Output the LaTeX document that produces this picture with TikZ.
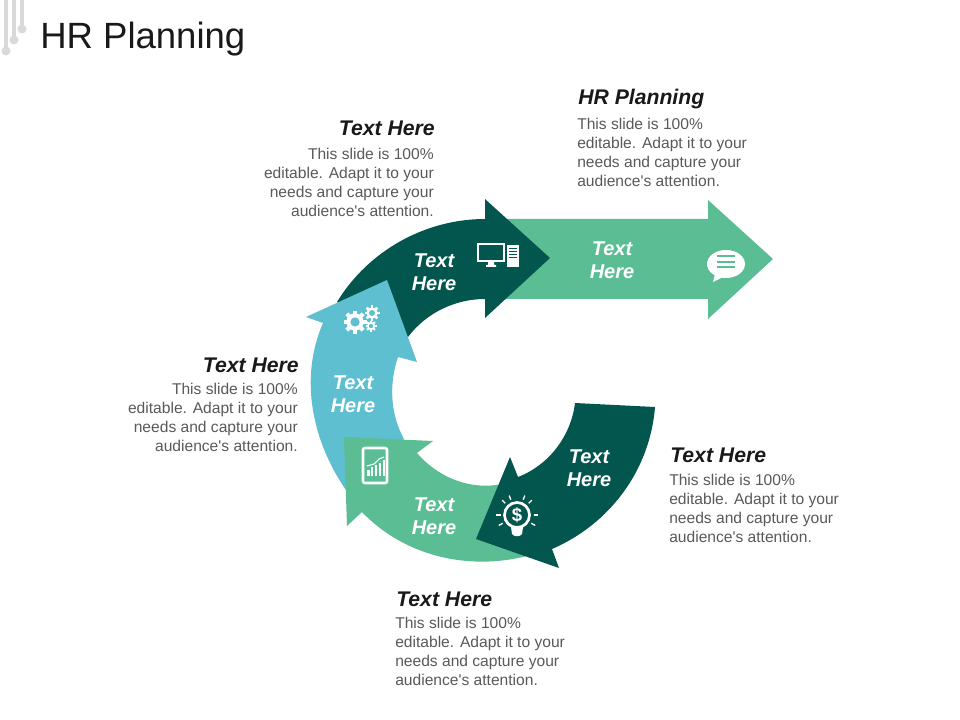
\documentclass[tikz,border=0pt]{standalone}
\usepackage{fontspec}
\setmainfont{Liberation Sans}[Ligatures=TeXOff]
\usetikzlibrary{positioning}
\definecolor{leafgreen}{HTML}{5BBD93}
\definecolor{deepteal}{HTML}{03564E}
\definecolor{skyteal}{HTML}{5DBFCF}
\definecolor{bodygray}{HTML}{595959}
\definecolor{ornament}{HTML}{D9D9D9}
\tikzset{
  headtext/.style={inner sep=0pt,font=\fontsize{15.9}{19}\selectfont\bfseries\itshape,text=black!90},
  bodytext/.style={inner sep=0pt,xshift=-.75pt,yshift=-.75pt,font=\fontsize{11.7}{14.25}\selectfont,text=bodygray},
  arrowtext/.style={inner sep=0pt,align=center,text=white,font=\fontsize{15}{17.25}\selectfont\bfseries\itshape},
  iconline/.style={draw=white,line width=1.9pt}
}
\newcommand{\gearicon}[5]{% x, y, radius, tooth width, background
  \foreach \a in {0,45,...,315}
    \draw[white,line width=#4pt] (#1,#2) ++(\a:.6*#3) -- ++(\a:.4*#3);
  \fill[white] (#1,#2) circle (.75*#3);
  \fill[#5] (#1,#2) circle (.4*#3);
}
\begin{document}
\begin{tikzpicture}[x=.75pt,y=-.75pt]
\useasboundingbox (0,0) rectangle (960,720);
% corner lines
\draw[ornament,line width=2.5pt] (6,0) -- (6,51);
\draw[ornament,line width=2.5pt] (14,0) -- (14,40);
\draw[ornament,line width=2.5pt] (22,0) -- (22,29);
\fill[ornament] (6,51) circle (4.5) (14,40) circle (4.5) (22,29) circle (4.5);
\node[anchor=west,inner sep=0pt,font=\fontsize{27.4}{30}\selectfont,text=black!90] (title) at (40,39) {HR Planning};
% arrows
\fill[leafgreen] (495,219) -- (708,219) -- (708,200) -- (773,259) -- (708,319) -- (708,299) -- (495,299) -- cycle;
\fill[deepteal] (337,302) .. controls (368,251) and (425,219) .. (485,219) -- (485,199) -- (550,258) -- (485,318) -- (485,299) .. controls (455,299) and (426,313) .. (408,337) -- cycle;
\fill[skyteal] (346,490) .. controls (312,441) and (299,378) .. (323,323) -- (306,317) -- (387,280) -- (417,362) -- (398,357) .. controls (389,383) and (390,414) .. (404,439) -- cycle;
\fill[leafgreen] (527,556) .. controls (468,571) and (404,556) .. (362,512) -- (347,526) -- (344,437) -- (433,441) -- (417,453) .. controls (441,481) and (480,494) .. (515,480) -- cycle;
\fill[deepteal] (575,403) -- (655,407) .. controls (650,470) and (610,524) .. (552,549) -- (559,568) -- (476,539) -- (510,457) -- (518,477) .. controls (549,465) and (571,436) .. (575,403) -- cycle;
% arrow labels
\node[arrowtext] (textright) at (612,260) {Text\\Here};
\node[arrowtext] (texttop) at (434,272) {Text\\Here};
\node[arrowtext] (textleft) at (353,394) {Text\\Here};
\node[arrowtext] (textbottom) at (434,516) {Text\\Here};
\node[arrowtext] (textlow) at (589,468) {Text\\Here};
% side texts
\node[headtext,anchor=west] (hrhead) at (578,99) {HR Planning};
\node[bodytext,align=left,below=5.75pt of hrhead.south west,anchor=north west] (hrbody) {This slide is 100\%\\editable. Adapt it to your\\needs and capture your\\audience's attention.};
\node[headtext,anchor=east] (tophead) at (435,128) {Text Here};
\node[bodytext,align=right,below=8.75pt of tophead.south east,anchor=north east] (topbody) {This slide is 100\%\\editable. Adapt it to your\\needs and capture your\\audience's attention.};
\node[headtext,anchor=east] (lefthead) at (299,365) {Text Here};
\node[bodytext,align=right,below=7.25pt of lefthead.south east,anchor=north east] (leftbody) {This slide is 100\%\\editable. Adapt it to your\\needs and capture your\\audience's attention.};
\node[headtext,anchor=west] (lowhead) at (670,455) {Text Here};
\node[bodytext,align=left,below=8pt of lowhead.south west,anchor=north west] (lowbody) {This slide is 100\%\\editable. Adapt it to your\\needs and capture your\\audience's attention.};
\node[headtext,anchor=west] (bottomhead) at (396,599) {Text Here};
\node[bodytext,align=left,below=7.25pt of bottomhead.south west,anchor=north west] (bottombody) {This slide is 100\%\\editable. Adapt it to your\\needs and capture your\\audience's attention.};
% speech bubble
\fill[white] (726,264) ellipse (19 and 14);
\fill[white] (715,274) -- (713,282) -- (725,276) -- cycle;
\draw[leafgreen,line width=1.8pt] (717,256) -- (735,256) (717,262) -- (735,262) (717,267) -- (735,267);
% monitor and tower
\draw[iconline] (478,244) rectangle (504,261);
\fill[white] (488,262) rectangle (494,265) (486,265) rectangle (496,267);
\fill[white] (507,245) rectangle (519,267);
\draw[deepteal,line width=.7pt] (509,248) -- (517,248) (509,251) -- (517,251) (509,254) -- (517,254) (509,257) -- (517,257);
% gears
\gearicon{355}{322}{11.5}{3}{skyteal}
\gearicon{372}{313}{7.5}{2}{skyteal}
\gearicon{371}{326}{5.5}{1.4}{skyteal}
% tablet
\draw[iconline,rounded corners=1.5pt] (363,448) rectangle (387,483);
\foreach \x/\h in {368.5/6,372/9,376/11,380/13,384/16}
  \draw[white,line width=1.8pt] (\x,476) -- ++(0,-\h);
\draw[white,line width=.8pt] (367,466) -- (374,464) -- (379,459) -- (384,457);
% bulb
\draw[iconline,line width=2pt] (517,515) circle (12.5);
\fill[white] (511,527) -- (523,527) -- (522,534) .. controls (520,537) and (514,537) .. (512,534) -- cycle;
\node[inner sep=0pt,text=white,font=\fontsize{14}{16}\selectfont\bfseries] (dollar) at (517,515) {\$};
\foreach \a in {-180,-135,-112,-68,-45,0,30,150}
  \draw[white,line width=1pt] (517,515) ++(\a:16.5) -- ++(\a:4.5);
\end{tikzpicture}
\end{document}
